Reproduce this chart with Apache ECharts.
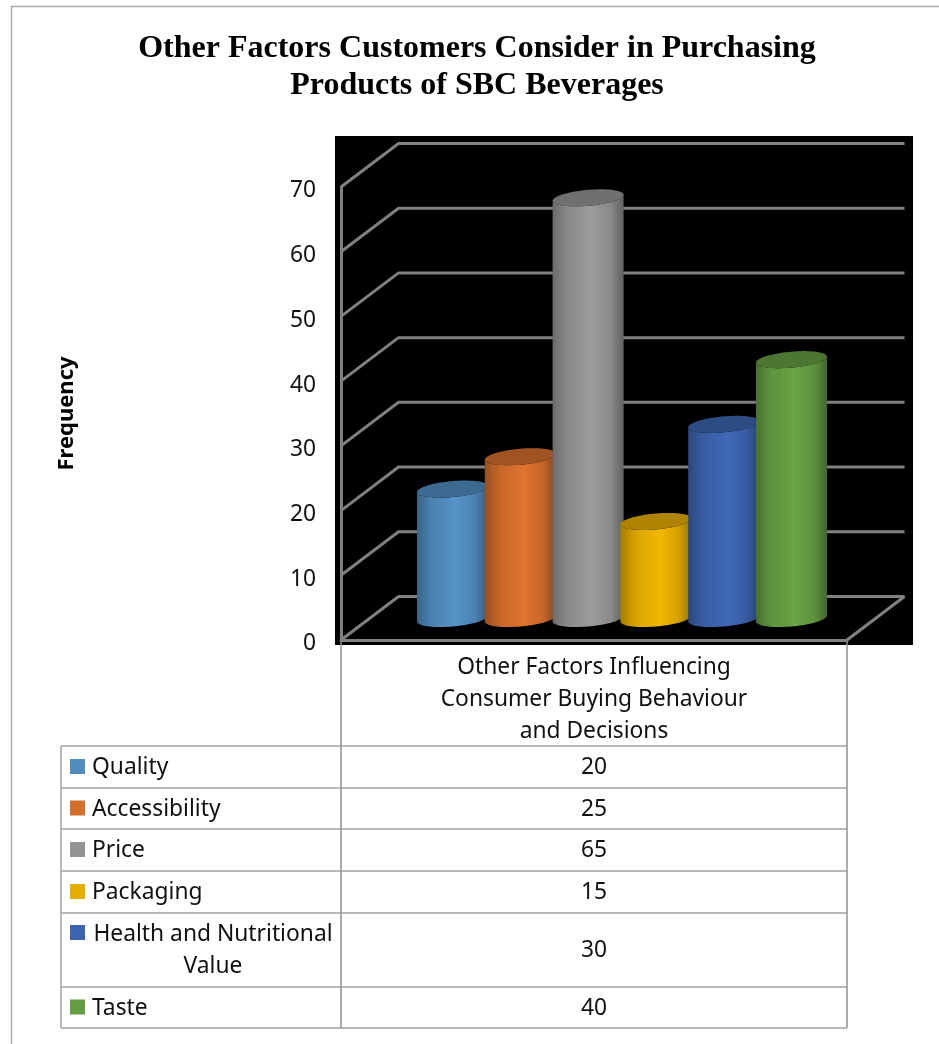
<!DOCTYPE html>
<html>
<head>
<meta charset="utf-8">
<style>html,body{margin:0;padding:0;background:#fff}#chart{width:939px;height:1044px}</style>
<script src="https://cdn.jsdelivr.net/npm/echarts@6/dist/echarts.min.js"></script>
</head>
<body>
<div id="chart"></div>
<script>
// Survey results
const factors = ['Quality', 'Accessibility', 'Price', 'Packaging', 'Health and Nutritional\nValue', 'Taste'];
const frequencies = [20, 25, 65, 15, 30, 40];
const barColors = ['#5593c8', '#e0742f', '#9c9c9c', '#f2b800', '#4069b8', '#6aa545'];
const axisTicks = [0, 10, 20, 30, 40, 50, 60, 70];
const categoryLabel = 'Other Factors Influencing\nConsumer Buying Behaviour\nand Decisions';
const titleText = 'Other Factors Customers Consider in Purchasing\nProducts of SBC Beverages';

const BODY_FONT = '"Noto Sans"';
const BODY_SIZE = 22.8;
const LINE = '#808080';
const RULE = '#a3a3a3';
const DEPTH_X = 57.5, DEPTH_Y = -43.5;

function shade(hex, k) {
  const n = parseInt(hex.slice(1), 16);
  const c = [n >> 16, (n >> 8) & 255, n & 255].map(v => Math.round(v * k));
  return 'rgb(' + c.join(',') + ')';
}

// Perspective walls: each tick runs from the front axis to the back wall and across it.
function renderWalls(params, api) {
  const sys = params.coordSys;
  const y = api.coord([0, api.value(1)])[1];
  const left = sys.x, right = sys.x + sys.width;
  const style = { stroke: LINE, lineWidth: 3, fill: null };
  const children = [{
    type: 'polyline',
    shape: { points: [[left, y], [left + DEPTH_X, y + DEPTH_Y], [right + DEPTH_X, y + DEPTH_Y]] },
    style
  }];
  if (api.value(1) === 0) {
    children.push({
      type: 'polyline',
      shape: { points: [[right, y], [right + DEPTH_X, y + DEPTH_Y]] },
      style
    });
  }
  return { type: 'group', children };
}

function ellipseArc(cx, cy, rx, ry, tilt, from, to, steps) {
  const pts = [];
  for (let i = 0; i <= steps; i++) {
    const t = from + (to - from) * i / steps;
    pts.push([cx + rx * Math.cos(t), cy + ry * Math.sin(t) - tilt * Math.cos(t)]);
  }
  return pts;
}

// Tilted cylinder rising from the floor to the value.
function renderCylinder(params, api) {
  const base = api.coord([api.value(0), 0]);
  const top = api.coord([api.value(0), api.value(1)]);
  const color = barColors[params.dataIndex];
  const rx = 35.5, ry = 8, tilt = 3;
  const lower = ellipseArc(base[0], base[1], rx, ry, tilt, Math.PI, 0, 40);
  const upper = ellipseArc(top[0], top[1], rx, ry, tilt, 0, Math.PI, 40);
  const gradient = new echarts.graphic.LinearGradient(0, 0, 1, 0, [
    { offset: 0, color: shade(color, 0.68) },
    { offset: 0.2, color: shade(color, 0.88) },
    { offset: 0.55, color: color },
    { offset: 0.82, color: shade(color, 0.88) },
    { offset: 1, color: shade(color, 0.62) }
  ]);
  return {
    type: 'group',
    children: [
      { type: 'polygon', shape: { points: lower.concat(upper) }, style: { fill: gradient } },
      {
        type: 'polygon',
        shape: { points: ellipseArc(top[0], top[1], rx, ry, tilt, 0, Math.PI * 2, 80) },
        style: { fill: shade(color, 0.72) }
      }
    ]
  };
}

// Data table under the chart, with its legend keys.
const ruleY = [746, 788, 829, 871, 913, 987, 1028];
const tableLeft = 61, tableMid = 341, tableRight = 847;
const tableElements = [];
function rule(x1, y1, x2, y2, stroke) {
  tableElements.push({
    type: 'line', shape: { x1, y1, x2, y2 },
    style: { stroke, lineWidth: 1.5 }, silent: true
  });
}
ruleY.forEach(y => rule(tableLeft, y, tableRight, y, RULE));
rule(tableLeft, ruleY[0], tableLeft, ruleY[6], RULE);
rule(tableMid, 641, tableMid, ruleY[6], '#8f8f8f');
rule(tableRight, 641, tableRight, ruleY[6], '#8f8f8f');
factors.forEach((name, i) => {
  const top = ruleY[i], bottom = ruleY[i + 1];
  const wrapped = name.includes('\n');
  const cy = (top + bottom) / 2;
  tableElements.push({
    type: 'rect',
    shape: { x: 70, y: (wrapped ? top + 20 : cy) - 8, width: 15, height: 15 },
    style: { fill: shade(barColors[i], 0.95) }
  });
  tableElements.push({
    type: 'text',
    x: wrapped ? 213 : 92, y: cy + 1,
    style: {
      text: name, fill: '#111', font: BODY_SIZE + 'px ' + BODY_FONT,
      align: wrapped ? 'center' : 'left', verticalAlign: 'middle', lineHeight: 32
    }
  });
  tableElements.push({
    type: 'text',
    x: 594, y: cy + 1,
    style: {
      text: String(frequencies[i]), fill: '#111', font: BODY_SIZE + 'px ' + BODY_FONT,
      align: 'center', verticalAlign: 'middle'
    }
  });
});

const chart = echarts.init(document.getElementById('chart'), null, { renderer: 'canvas' });
chart.setOption({
  animation: false,
  backgroundColor: '#fff',
  title: {
    text: titleText, left: 472, top: 25, textAlign: 'center',
    textStyle: { fontFamily: 'Liberation Serif', fontWeight: 'bold', fontSize: 32, lineHeight: 37, color: '#000' }
  },
  grid: [
    { left: 341, right: 92, top: 187, bottom: 404 },
    { left: 418.6, width: 406.8, top: 165.5, bottom: 425.5 }
  ],
  xAxis: [
    {
      type: 'category', gridIndex: 0, data: [categoryLabel],
      axisLine: { show: true, lineStyle: { color: LINE, width: 3 } },
      axisTick: { show: false },
      axisLabel: { fontFamily: BODY_FONT, fontSize: BODY_SIZE, color: '#111', lineHeight: 32, margin: 12 }
    },
    {
      type: 'category', gridIndex: 1, data: factors, show: false
    }
  ],
  yAxis: [
    {
      type: 'value', gridIndex: 0, min: 0, max: 70, interval: 10,
      name: 'Frequency', nameLocation: 'middle', nameGap: 263, nameRotate: 90,
      nameTextStyle: { fontFamily: BODY_FONT, fontWeight: 'bold', fontSize: 22, color: '#000' },
      axisLine: { show: true, lineStyle: { color: LINE, width: 3 } },
      axisTick: { show: false },
      splitLine: { show: false },
      axisLabel: { fontFamily: BODY_FONT, fontSize: BODY_SIZE, color: '#111', margin: 25, verticalAlign: 'top', lineHeight: 8 }
    },
    { type: 'value', gridIndex: 1, min: 0, max: 70, show: false, splitLine: { show: false } }
  ],
  series: [
    {
      type: 'custom', xAxisIndex: 0, yAxisIndex: 0, z: 1, silent: true,
      renderItem: renderWalls,
      data: axisTicks.map(v => [0, v])
    },
    {
      type: 'custom', xAxisIndex: 1, yAxisIndex: 1, z: 3, silent: true,
      renderItem: renderCylinder,
      data: frequencies.map((v, i) => [i, v])
    }
  ],
  graphic: [
    { type: 'rect', z: -10, silent: true, shape: { x: 335, y: 136, width: 578, height: 509 }, style: { fill: '#000' } },
    { type: 'polyline', z: -9, silent: true, shape: { points: [[11.5, 1044], [11.5, 6.5], [939, 6.5]] }, style: { stroke: '#aaa', lineWidth: 1.5, fill: null } }
  ].concat(tableElements)
});
</script>
</body>
</html>
